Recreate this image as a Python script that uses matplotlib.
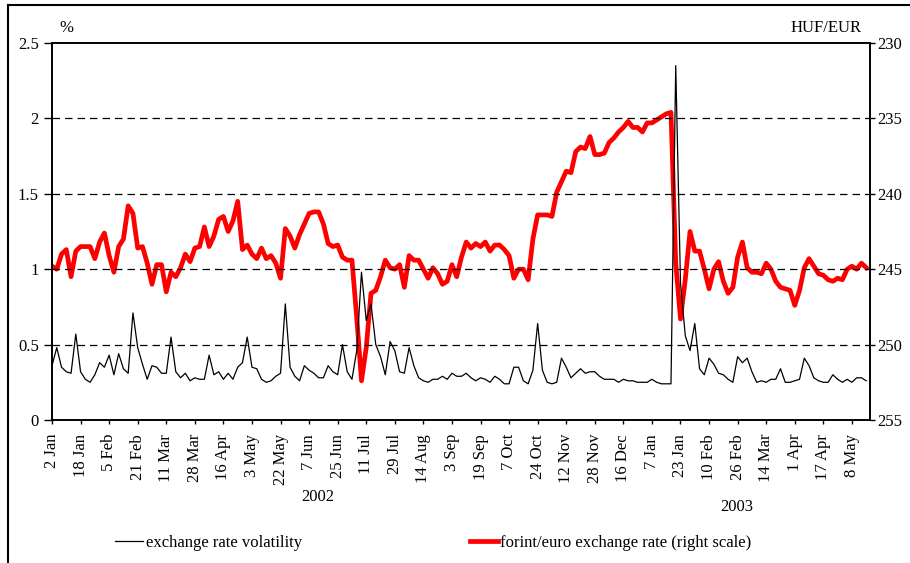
import matplotlib
matplotlib.use("Agg")
import matplotlib.pyplot as plt
import numpy as np
from matplotlib.lines import Line2D

# every second trading day from 2 Jan 2002
huf_eur = [
    244.8, 245.0, 244.0, 243.7, 245.5, 243.8, 243.5, 243.5, 243.5, 244.3,
    243.2, 242.6, 244.1, 245.2, 243.5, 243.0, 240.8, 241.3, 243.6, 243.5,
    244.6, 246.0, 244.7, 244.7, 246.5, 245.2, 245.5, 244.9, 244.0, 244.5,
    243.6, 243.5, 242.2, 243.5, 242.8, 241.7, 241.5, 242.5, 241.8, 240.5,
    243.7, 243.4, 244.0, 244.3, 243.6, 244.3, 244.1, 244.6, 245.6, 242.3,
    242.8, 243.6, 242.7, 242.0, 241.3, 241.2, 241.2, 242.0, 243.3, 243.5,
    243.4, 244.2, 244.4, 244.4, 248.2, 252.4, 250.2, 246.6, 246.4, 245.5,
    244.4, 244.9, 245.0, 244.7, 246.2, 244.1, 244.4, 244.4, 245.0, 245.6,
    244.9, 245.3, 246.0, 245.8, 244.7, 245.5, 244.2, 243.2, 243.6, 243.3,
    243.5, 243.2, 243.8, 243.4, 243.4, 243.7, 244.1, 245.6, 245.0, 245.0,
    245.7, 243.0, 241.4, 241.4, 241.4, 241.5, 239.9, 239.2, 238.5, 238.6,
    237.2, 236.9, 237.0, 236.2, 237.4, 237.4, 237.3, 236.6, 236.3, 235.9,
    235.6, 235.2, 235.6, 235.6, 235.9, 235.3, 235.3, 235.1, 234.9, 234.7,
    234.6, 244.6, 248.3, 245.7, 242.5, 243.8, 243.8, 245.0, 246.3, 245.0,
    244.5, 245.8, 246.6, 246.2, 244.2, 243.2, 244.9, 245.2, 245.2, 245.3,
    244.6, 245.0, 245.8, 246.2, 246.3, 246.4, 247.4, 246.4, 244.9, 244.3,
    244.8, 245.3, 245.4, 245.7, 245.8, 245.6, 245.7, 245.0, 244.8, 245.0,
    244.6, 244.9,
]

volatility = [
    0.36, 0.48, 0.35, 0.32, 0.31, 0.57, 0.32, 0.27, 0.25, 0.30,
    0.38, 0.35, 0.43, 0.30, 0.44, 0.34, 0.31, 0.71, 0.48, 0.37,
    0.27, 0.36, 0.35, 0.31, 0.31, 0.55, 0.32, 0.28, 0.31, 0.26,
    0.28, 0.27, 0.27, 0.43, 0.30, 0.32, 0.27, 0.31, 0.27, 0.35,
    0.38, 0.55, 0.35, 0.34, 0.27, 0.25, 0.26, 0.29, 0.31, 0.77,
    0.35, 0.29, 0.26, 0.36, 0.33, 0.31, 0.28, 0.28, 0.36, 0.32,
    0.30, 0.50, 0.32, 0.27, 0.46, 0.98, 0.66, 0.77, 0.50, 0.42,
    0.30, 0.52, 0.46, 0.32, 0.31, 0.48, 0.36, 0.28, 0.26, 0.25,
    0.27, 0.27, 0.29, 0.27, 0.31, 0.29, 0.29, 0.31, 0.28, 0.26,
    0.28, 0.27, 0.25, 0.29, 0.27, 0.24, 0.24, 0.35, 0.35, 0.26,
    0.24, 0.33, 0.64, 0.33, 0.25, 0.24, 0.25, 0.41, 0.35, 0.28,
    0.31, 0.34, 0.31, 0.32, 0.32, 0.29, 0.27, 0.27, 0.27, 0.25,
    0.27, 0.26, 0.26, 0.25, 0.25, 0.25, 0.27, 0.25, 0.24, 0.24,
    0.24, 2.35, 0.91, 0.56, 0.46, 0.64, 0.34, 0.30, 0.41, 0.37,
    0.31, 0.30, 0.27, 0.25, 0.42, 0.38, 0.41, 0.32, 0.25, 0.26,
    0.25, 0.27, 0.27, 0.34, 0.25, 0.25, 0.26, 0.27, 0.41, 0.36,
    0.28, 0.26, 0.25, 0.25, 0.30, 0.27, 0.25, 0.27, 0.25, 0.28,
    0.28, 0.26,
]

tick_labels = [
    "2 Jan", "18 Jan", "5 Feb", "21 Feb", "11 Mar", "28 Mar", "16 Apr",
    "3 May", "22 May", "7 Jun", "25 Jun", "11 Jul", "29 Jul", "14 Aug",
    "3 Sep", "19 Sep", "7 Oct", "24 Oct", "12 Nov", "28 Nov", "16 Dec",
    "7 Jan", "23 Jan", "10 Feb", "26 Feb", "14 Mar", "1 Apr", "17 Apr", "8 May",
]
tick_step = 12  # trading days between labels

plt.rcParams["font.family"] = ["Liberation Serif", "DejaVu Serif"]
plt.rcParams["font.size"] = 12

W, H = 910, 563
fig = plt.figure(figsize=(W / 100, H / 100), dpi=100)


def fx(px):
    return px / W


def fy(py):
    return 1 - py / H


ax = fig.add_axes([fx(52), fy(420), fx(870) - fx(52), fy(43) - fy(420)])
ax2 = ax.twinx()

days = np.arange(len(volatility)) * 2

ax2.plot(days, huf_eur, color="#ff0000", lw=3.4, solid_joinstyle="round")
ax.plot(days, volatility, color="black", lw=0.9)

# volatility on top of the red line
ax.set_zorder(ax2.get_zorder() + 1)
ax.patch.set_visible(False)

ax.set_xlim(0, 343.6)
ax.set_ylim(0, 2.5)
ax.set_yticks([0, 0.5, 1, 1.5, 2, 2.5])
ax.set_yticklabels(["0", "0.5", "1", "1.5", "2", "2.5"])
ax2.set_ylim(255, 230)
ax2.set_yticks([230, 235, 240, 245, 250, 255])

ax.set_xticks(np.arange(len(tick_labels)) * tick_step)
ax.set_xticklabels(tick_labels, rotation=90)
ax.tick_params(axis="x", length=3, width=1, pad=7, direction="out")
ax.tick_params(axis="y", length=5.5, width=1, pad=4, direction="out")
ax2.tick_params(axis="y", length=3.5, width=1, pad=2, direction="out")

for y in [0.5, 1, 1.5, 2]:
    ax.axhline(y, color="black", lw=0.9, ls=(0, (6, 4)), zorder=0)

for a in (ax, ax2):
    for s in a.spines.values():
        s.set_linewidth(1.2)

fig.text(fx(66), fy(28), "%", ha="center", va="center")
fig.text(fx(862), fy(28), "HUF/EUR", ha="right", va="center")
fig.text(fx(318), fy(497), "2002", ha="center", va="center")
fig.text(fx(737), fy(507), "2003", ha="center", va="center")

h1 = Line2D([], [], color="black", lw=0.9)
h2 = Line2D([], [], color="#ff0000", lw=3.4)
fig.legend([h1], ["exchange rate volatility"], loc="center left",
           bbox_to_anchor=(fx(108), fy(543)), frameon=False,
           handlelength=1.7, handletextpad=0.15, borderaxespad=0)
fig.legend([h2], ["forint/euro exchange rate (right scale)"], loc="center left",
           bbox_to_anchor=(fx(463), fy(543)), frameon=False,
           handlelength=1.7, handletextpad=0.15, borderaxespad=0)

# outer frame (left and top edges visible)
fig.add_artist(Line2D([fx(8), fx(8)], [0, fy(5)], color="black", lw=1.5))
fig.add_artist(Line2D([fx(8), 1], [fy(5), fy(5)], color="black", lw=1.5))

fig.savefig("out.png", dpi=100)
